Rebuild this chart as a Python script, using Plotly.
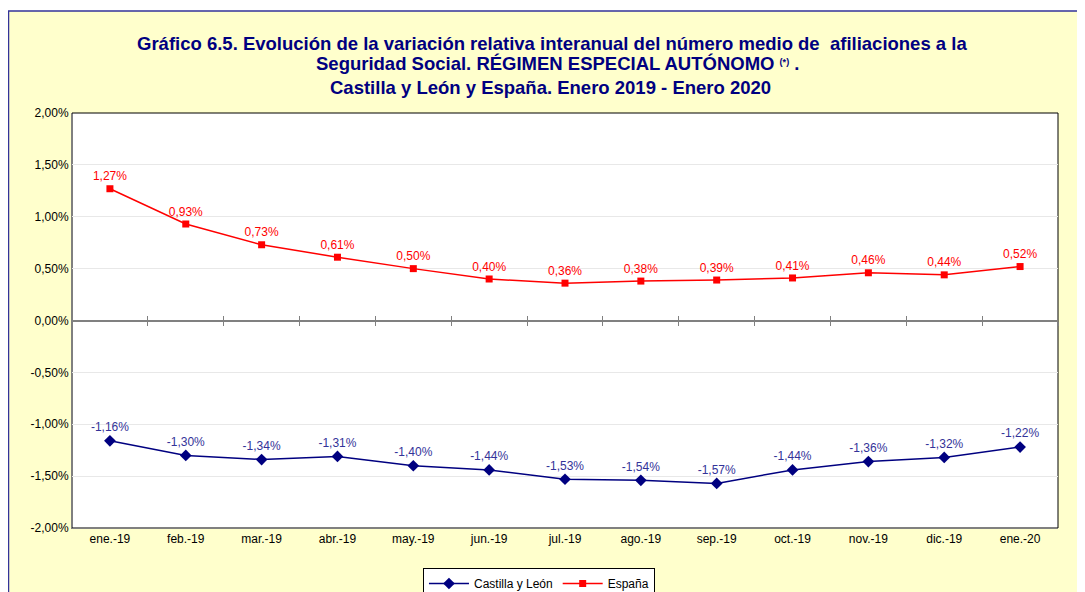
import plotly.graph_objects as go

categories = ["ene.-19", "feb.-19", "mar.-19", "abr.-19", "may.-19", "jun.-19", "jul.-19",
              "ago.-19", "sep.-19", "oct.-19", "nov.-19", "dic.-19", "ene.-20"]
espana = [1.27, 0.93, 0.73, 0.61, 0.50, 0.40, 0.36, 0.38, 0.39, 0.41, 0.46, 0.44, 0.52]
cyl = [-1.16, -1.30, -1.34, -1.31, -1.40, -1.44, -1.53, -1.54, -1.57, -1.44, -1.36, -1.32, -1.22]
y_ticks = [-2.0, -1.5, -1.0, -0.5, 0.0, 0.5, 1.0, 1.5, 2.0]


def pct(v):
    return f"{v:.2f}%".replace(".", ",")


FONT = "Liberation Sans, Arial, sans-serif"
NAVY = "#000080"

fig = go.Figure()
fig.add_trace(go.Scatter(
    x=categories, y=cyl, name="Castilla y León", mode="lines+markers+text",
    line=dict(color=NAVY, width=1.5), marker=dict(symbol="diamond", size=9, color=NAVY),
    text=[pct(v) for v in cyl], textposition="top center",
    textfont=dict(family=FONT, size=12, color="#333399"), cliponaxis=False))
fig.add_trace(go.Scatter(
    x=categories, y=espana, name="España", mode="lines+markers+text",
    line=dict(color="#FF0000", width=1.5), marker=dict(symbol="square", size=7, color="#FF0000"),
    text=[pct(v) for v in espana], textposition="top center",
    textfont=dict(family=FONT, size=12, color="#FF0000"), cliponaxis=False))

# invisible traces on helper axes to draw the zero-line ticks at category boundaries
for ax in ("x2", "x3"):
    fig.add_trace(go.Scatter(x=categories, y=[None] * len(categories), xaxis=ax,
                             showlegend=False, hoverinfo="skip", mode="lines"))

rng = [-0.5, len(categories) - 0.5]
fig.update_layout(
    width=1077, height=584,
    margin=dict(l=64, r=27, t=105, b=64, autoexpand=False),
    paper_bgcolor="white", plot_bgcolor="white",
    font=dict(family=FONT, size=12, color="black"),
    xaxis=dict(type="category", showline=True, linecolor="#808080", linewidth=1,
               showgrid=False, ticks="", tickfont=dict(size=12, color="black"), range=rng),
    xaxis2=dict(type="category", overlaying="x", anchor="free", position=0.5,
                showline=True, linecolor="#808080", linewidth=2, ticks="inside",
                tickson="boundaries", ticklen=4, tickcolor="#808080", tickwidth=1,
                showticklabels=False, showgrid=False, range=rng),
    xaxis3=dict(type="category", overlaying="x", anchor="free", position=0.5,
                showline=False, ticks="outside",
                tickson="boundaries", ticklen=4, tickcolor="#808080", tickwidth=1,
                showticklabels=False, showgrid=False, range=rng),
    yaxis=dict(range=[-2, 2], tickvals=y_ticks, ticktext=[pct(v) for v in y_ticks],
               showline=True, linecolor="#808080", linewidth=1, showgrid=True,
               gridcolor="#E8E8E8", gridwidth=1, zeroline=False, ticks="",
               tickfont=dict(size=12, color="black")),
    legend=dict(orientation="h", x=0.4736, xanchor="center", y=-0.0964, yanchor="top",
                bgcolor="white", bordercolor="black", borderwidth=1,
                font=dict(size=12, color="black"), itemwidth=40),
    shapes=[
        dict(type="rect", xref="paper", yref="paper", x0=-0.0644, x1=1.04, y0=-0.2, y1=1.2458,
             fillcolor="#FFFFCC", line=dict(color="#333399", width=1.5), layer="below"),
        dict(type="rect", xref="paper", yref="paper", x0=0, x1=1, y0=0, y1=1,
             fillcolor="white", line=dict(color="black", width=1), layer="below"),
    ],
    annotations=[
        dict(text="<b>Gráfico 6.5. Evolución de la variación relativa interanual del número medio de  afiliaciones a la</b>",
             xref="paper", yref="paper", x=0.487, y=(528 - 44) / 415, xanchor="center", yanchor="middle",
             showarrow=False, font=dict(family=FONT, size=18.5, color=NAVY)),
        dict(text="<b>Seguridad Social. RÉGIMEN ESPECIAL AUTÓNOMO <span style='font-size:13px'><sup>(*)</sup></span> .</b>",
             xref="paper", yref="paper", x=0.492, y=(528 - 63) / 415, xanchor="center", yanchor="middle",
             showarrow=False, font=dict(family=FONT, size=18.5, color=NAVY)),
        dict(text="<b>Castilla y León y España. Enero 2019 - Enero 2020</b>",
             xref="paper", yref="paper", x=0.485, y=(528 - 88) / 415, xanchor="center", yanchor="middle",
             showarrow=False, font=dict(family=FONT, size=18.5, color=NAVY)),
    ],
)

fig.write_html("out.html")
